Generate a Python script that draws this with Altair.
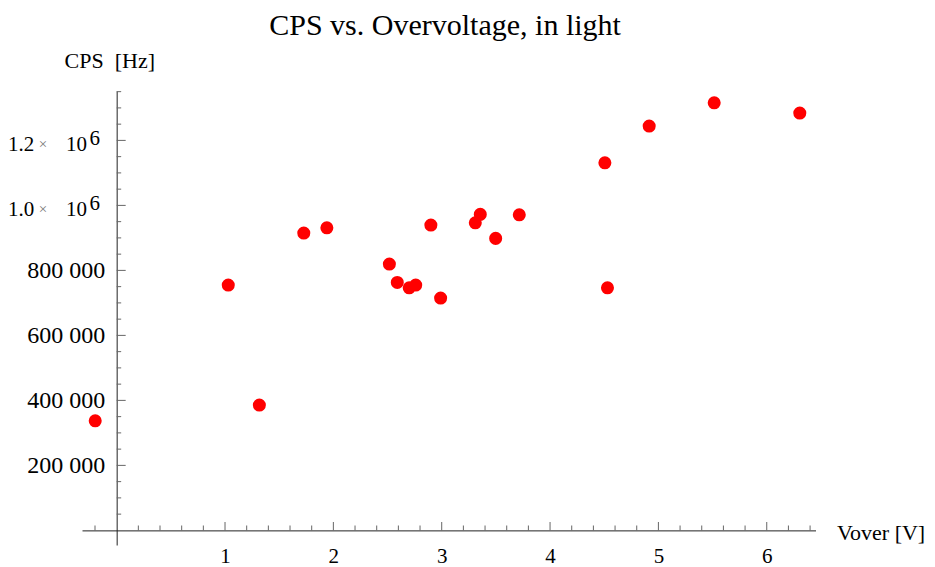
import altair as alt
import pandas as pd

# ---- data ----
vover = [-0.198, 1.03, 1.317, 1.727, 1.94, 2.517, 2.59, 2.70, 2.76, 2.90,
         2.99, 3.31, 3.356, 3.498, 3.716, 4.506, 4.53, 4.915, 5.515, 6.305]
cps = [337200, 754800, 385500, 914800, 931000, 819400, 763000, 746500, 754800, 939400,
       714800, 946500, 972300, 898500, 971000, 1131000, 746500, 1244000, 1315700, 1284000]

x_major = [1, 2, 3, 4, 5, 6]
x_minor = [-0.2, 0.2, 0.4, 0.6, 0.8, 1.2, 1.4, 1.6, 1.8, 2.2, 2.4, 2.6, 2.8,
           3.2, 3.4, 3.6, 3.8, 4.2, 4.4, 4.6, 4.8, 5.2, 5.4, 5.6, 5.8, 6.2, 6.4]
y_major = [200000, 400000, 600000, 800000, 1000000, 1200000]
y_minor = [50000, 100000, 150000, 250000, 300000, 350000, 450000, 500000, 550000,
           650000, 700000, 750000, 850000, 900000, 950000, 1050000, 1100000, 1150000,
           1250000, 1300000, 1350000]
y_plain_labels = [200000, 400000, 600000, 800000]
sci_values = [1000000, 1200000]
sci_mantissa = ["1.0", "1.2"]
sci_base = ["10", "10"]
sci_exp = ["6", "6"]

x_domain = [-0.32, 6.45]
y_domain = [-45000, 1352000]

FONT = "Liberation Serif"
W = 733.5
H = 454.0
x_off = -W * (0 - x_domain[0]) / (x_domain[1] - x_domain[0])
y_off = -H * (0 - y_domain[0]) / (y_domain[1] - y_domain[0])

xs = alt.Scale(domain=x_domain, nice=False, zero=False)
ys = alt.Scale(domain=y_domain, nice=False, zero=False)

x_axis = alt.Axis(values=x_major, ticks=False, grid=False, format="d",
                  domainColor="#222222", domainWidth=1,
                  labelFont=FONT, labelFontSize=21, labelColor="#000000",
                  labelPadding=15, offset=y_off,
                  title="Vover\u00a0[V]", titleFont=FONT, titleFontSize=22,
                  titleFontWeight="normal", titleColor="#000000",
                  titleX=W + 21, titleY=2.5, titleAlign="left",
                  titleBaseline="middle")
y_axis = alt.Axis(values=y_plain_labels, ticks=False, grid=False,
                  labelExpr="format(datum.value / 1000, 'd') + ' 000'",
                  domainColor="#222222", domainWidth=1,
                  labelFont=FONT, labelFontSize=24, labelColor="#000000",
                  labelPadding=12, offset=x_off,
                  title="CPS\u00a0\u00a0[Hz]", titleFont=FONT, titleFontSize=22,
                  titleFontWeight="normal", titleColor="#000000",
                  titleAngle=0, titleX=-52.6, titleY=-31,
                  titleAlign="left", titleBaseline="middle")

pts = pd.DataFrame({"Vover": vover, "CPS": cps})

points = alt.Chart(pts).mark_circle(size=170, color="#ff0000", opacity=1).encode(
    x=alt.X("Vover:Q", scale=xs, axis=x_axis),
    y=alt.Y("CPS:Q", scale=ys, axis=y_axis),
)

def xticks(vals, length):
    return alt.Chart(pd.DataFrame({"Vover": vals})).mark_tick(
        orient="vertical", size=length, thickness=1, color="#666666",
        yOffset=-length / 2, opacity=1
    ).encode(x=alt.X("Vover:Q", scale=xs, axis=x_axis),
             y=alt.Y(datum=0, scale=ys, axis=y_axis))

def yticks(vals, length):
    return alt.Chart(pd.DataFrame({"CPS": vals})).mark_tick(
        orient="horizontal", size=length, thickness=1, color="#666666",
        xOffset=length / 2, opacity=1
    ).encode(y=alt.Y("CPS:Q", scale=ys, axis=y_axis),
             x=alt.X(datum=0, scale=xs, axis=x_axis))

sci = pd.DataFrame({"CPS": sci_values, "m": sci_mantissa, "b": sci_base, "e": sci_exp})

def sci_text(field, dx, dy, align, size=21):
    return alt.Chart(sci).mark_text(
        font=FONT, fontSize=size, align=align, baseline="middle",
        dx=dx, dy=dy, color="#000000"
    ).encode(y=alt.Y("CPS:Q", scale=ys, axis=y_axis),
             x=alt.X(datum=0, scale=xs, axis=x_axis),
             text=alt.Text(f"{field}:N"))

sci_sym = alt.Chart(sci).mark_text(
    font=FONT, fontSize=15, align="center", baseline="middle",
    dx=-73.6, dy=4, color="#777777"
).encode(y=alt.Y("CPS:Q", scale=ys, axis=y_axis),
         x=alt.X(datum=0, scale=xs, axis=x_axis),
         text=alt.value("×"))

chart = alt.layer(
    xticks(x_minor, 5), xticks(x_major, 8.5),
    yticks(y_minor, 4.5), yticks(y_major, 9),
    sci_text("m", -82.5, 4.5, "right"),
    sci_sym,
    sci_text("b", -29.6, 4.5, "right"),
    sci_text("e", -16.6, -1, "right"),
    points,
).properties(
    width=W, height=H,
    background="#ffffff",
    title=alt.TitleParams("CPS vs. Overvoltage, in light", font=FONT, fontSize=30,
                          fontWeight="normal", color="#000000", anchor="middle",
                          frame="group", baseline="alphabetic", offset=18, dy=34,
                          dx=-3.7),
    autosize=alt.AutoSizeParams(type="none"),
    padding={"left": 74, "top": 83, "right": 111, "bottom": 28},
).configure_view(strokeWidth=0, stroke="transparent")

chart.save("out.html", embed_options={"renderer": "svg", "actions": False})
